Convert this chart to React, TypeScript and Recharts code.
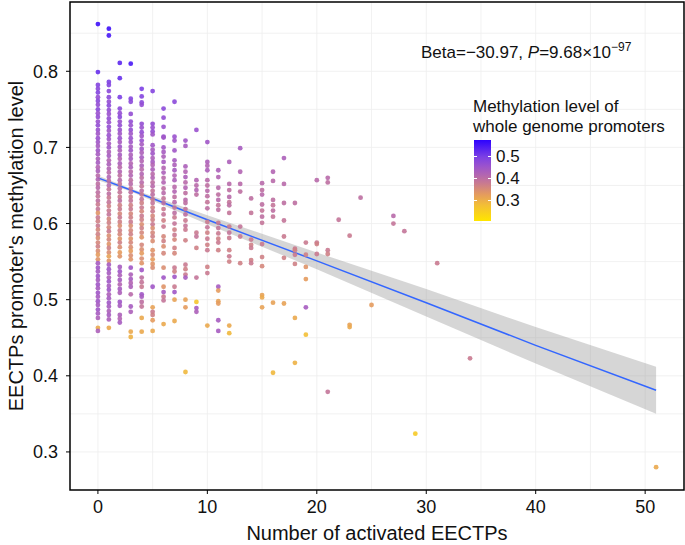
import React from 'react';
import { ComposedChart, Scatter, Line, Area, XAxis, YAxis, CartesianGrid, ReferenceArea } from 'recharts';

// each column: [y, methylation level of whole genome promoters]
const col0 = [[0.862,.56],[0.799,.52],[0.782,.49],[0.777,.48],[0.772,.49],[0.766,.47],[0.761,.48],[0.756,.47],[0.750,.48],[0.745,.46],[0.740,.47],[0.734,.46],[0.729,.47],[0.723,.46],[0.718,.45],[0.712,.46],[0.707,.45],[0.702,.44],[0.696,.45],[0.691,.44],[0.685,.43],[0.680,.44],[0.674,.42],[0.669,.43],[0.663,.41],[0.658,.42],[0.652,.40],[0.647,.41],[0.641,.40],[0.636,.39],[0.630,.40],[0.625,.38],[0.619,.39],[0.614,.34],[0.608,.38],[0.603,.37],[0.597,.38],[0.592,.36],[0.586,.37],[0.581,.35],[0.575,.36],[0.570,.37],[0.564,.35],[0.559,.33],[0.553,.34],[0.548,.44],[0.542,.45],[0.537,.44],[0.531,.45],[0.526,.44],[0.520,.45],[0.515,.44],[0.509,.45],[0.504,.44],[0.498,.45],[0.493,.44],[0.487,.45],[0.482,.44],[0.476,.43],[0.463,.31],[0.459,.43]];
const col1 = [[0.856,.56],[0.847,.55],[0.786,.50],[0.782,.49],[0.774,.48],[0.766,.48],[0.760,.47],[0.755,.48],[0.749,.47],[0.744,.46],[0.738,.47],[0.733,.46],[0.727,.47],[0.722,.45],[0.716,.46],[0.711,.45],[0.705,.44],[0.700,.45],[0.694,.43],[0.689,.44],[0.683,.42],[0.678,.43],[0.672,.42],[0.667,.41],[0.661,.42],[0.656,.40],[0.650,.41],[0.645,.39],[0.639,.40],[0.634,.38],[0.628,.39],[0.623,.37],[0.617,.38],[0.612,.39],[0.606,.36],[0.601,.37],[0.595,.36],[0.590,.38],[0.584,.35],[0.579,.36],[0.573,.34],[0.568,.37],[0.562,.35],[0.557,.32],[0.551,.34],[0.546,.44],[0.540,.45],[0.535,.44],[0.529,.43],[0.524,.45],[0.518,.44],[0.513,.45],[0.507,.43],[0.502,.44],[0.496,.45],[0.491,.44],[0.485,.43],[0.480,.44],[0.474,.43],[0.463,.31]];
const col2 = [[0.811,.53],[0.791,.52],[0.766,.50],[0.751,.48],[0.745,.47],[0.740,.48],[0.734,.46],[0.729,.47],[0.723,.46],[0.718,.45],[0.712,.46],[0.707,.44],[0.701,.45],[0.696,.43],[0.690,.44],[0.685,.42],[0.679,.43],[0.674,.41],[0.668,.42],[0.663,.40],[0.657,.41],[0.652,.39],[0.646,.40],[0.641,.39],[0.635,.38],[0.630,.40],[0.624,.37],[0.619,.38],[0.613,.36],[0.608,.38],[0.602,.37],[0.597,.35],[0.591,.37],[0.586,.36],[0.580,.34],[0.575,.37],[0.569,.35],[0.562,.33],[0.557,.34],[0.543,.44],[0.537,.45],[0.532,.43],[0.526,.44],[0.520,.42],[0.514,.44],[0.509,.43],[0.497,.45],[0.492,.44],[0.480,.43],[0.475,.42],[0.470,.44]];
const col3 = [[0.810,.55],[0.764,.49],[0.760,.48],[0.744,.47],[0.734,.47],[0.729,.46],[0.723,.47],[0.718,.45],[0.712,.46],[0.707,.45],[0.701,.44],[0.696,.45],[0.690,.43],[0.685,.44],[0.679,.42],[0.674,.43],[0.668,.41],[0.663,.42],[0.657,.40],[0.652,.41],[0.646,.39],[0.641,.40],[0.635,.38],[0.630,.39],[0.624,.37],[0.619,.38],[0.613,.36],[0.608,.37],[0.602,.38],[0.597,.35],[0.591,.36],[0.586,.37],[0.580,.34],[0.575,.36],[0.569,.35],[0.564,.33],[0.558,.35],[0.553,.34],[0.542,.45],[0.533,.43],[0.527,.44],[0.522,.42],[0.517,.43],[0.507,.41],[0.491,.44],[0.484,.43],[0.458,.31],[0.451,.30]];
const col4 = [[0.777,.50],[0.767,.49],[0.759,.48],[0.756,.47],[0.731,.47],[0.726,.46],[0.720,.47],[0.715,.45],[0.709,.46],[0.704,.44],[0.698,.45],[0.693,.43],[0.687,.44],[0.682,.42],[0.676,.43],[0.671,.41],[0.665,.42],[0.660,.40],[0.654,.41],[0.649,.39],[0.643,.40],[0.638,.38],[0.632,.39],[0.627,.37],[0.621,.38],[0.616,.36],[0.610,.38],[0.605,.37],[0.599,.35],[0.594,.37],[0.588,.36],[0.582,.34],[0.572,.36],[0.566,.35],[0.561,.33],[0.554,.35],[0.548,.34],[0.539,.45],[0.529,.40],[0.523,.39],[0.517,.38],[0.507,.45],[0.504,.44],[0.497,.40],[0.491,.39],[0.476,.31],[0.458,.31]];
const col5 = [[0.774,.49],[0.731,.47],[0.726,.46],[0.721,.47],[0.717,.45],[0.703,.45],[0.697,.44],[0.692,.45],[0.686,.43],[0.681,.44],[0.677,.42],[0.671,.43],[0.665,.41],[0.660,.42],[0.654,.40],[0.649,.41],[0.643,.39],[0.638,.40],[0.632,.38],[0.627,.39],[0.621,.37],[0.616,.38],[0.610,.36],[0.605,.37],[0.599,.38],[0.594,.35],[0.588,.36],[0.583,.37],[0.577,.35],[0.565,.34],[0.559,.35],[0.553,.33],[0.547,.34],[0.542,.35],[0.517,.45],[0.490,.32],[0.484,.38],[0.480,.37],[0.473,.33],[0.459,.31]];
const col6 = [[0.751,.48],[0.739,.47],[0.727,.46],[0.714,.46],[0.713,.45],[0.700,.45],[0.694,.44],[0.688,.43],[0.681,.44],[0.673,.42],[0.667,.43],[0.660,.41],[0.654,.42],[0.646,.40],[0.640,.41],[0.633,.39],[0.627,.40],[0.619,.38],[0.612,.39],[0.604,.37],[0.596,.38],[0.583,.36],[0.577,.37],[0.570,.35],[0.561,.36],[0.542,.35],[0.529,.45],[0.517,.34],[0.510,.44],[0.504,.38],[0.499,.39],[0.468,.31]];
const col7 = [[0.760,.48],[0.714,.46],[0.709,.45],[0.696,.45],[0.683,.44],[0.677,.43],[0.670,.44],[0.663,.42],[0.657,.43],[0.648,.41],[0.642,.42],[0.635,.40],[0.628,.41],[0.621,.39],[0.614,.40],[0.608,.38],[0.600,.39],[0.592,.37],[0.585,.38],[0.579,.36],[0.568,.37],[0.561,.36],[0.542,.38],[0.537,.37],[0.530,.45],[0.517,.38],[0.510,.45],[0.500,.32],[0.472,.31]];
const col8 = [[0.709,.45],[0.702,.44],[0.675,.43],[0.668,.42],[0.661,.43],[0.654,.41],[0.647,.42],[0.640,.40],[0.631,.41],[0.627,.40],[0.619,.39],[0.612,.40],[0.604,.38],[0.597,.39],[0.592,.38],[0.578,.37],[0.546,.38],[0.540,.37],[0.533,.38],[0.529,.44],[0.500,.32],[0.490,.33],[0.405,.29]];
const col9 = [[0.723,.46],[0.657,.42],[0.650,.41],[0.644,.42],[0.638,.40],[0.588,.38],[0.583,.39],[0.568,.37],[0.529,.39],[0.497,.27],[0.489,.44],[0.484,.43]];
const col10 = [[0.707,.45],[0.681,.43],[0.676,.42],[0.670,.43],[0.657,.41],[0.650,.40],[0.643,.41],[0.636,.40],[0.628,.39],[0.620,.40],[0.602,.38],[0.595,.39],[0.588,.37],[0.580,.38],[0.572,.37],[0.565,.38],[0.543,.37],[0.535,.38],[0.466,.31]];
const col11 = [[0.670,.43],[0.661,.42],[0.647,.41],[0.638,.40],[0.631,.41],[0.624,.39],[0.618,.40],[0.601,.38],[0.594,.39],[0.587,.38],[0.580,.37],[0.575,.38],[0.565,.37],[0.517,.44],[0.512,.33],[0.498,.32],[0.495,.33],[0.473,.44],[0.459,.44]];
const col12 = [[0.681,.43],[0.652,.41],[0.644,.40],[0.635,.41],[0.628,.39],[0.624,.40],[0.614,.39],[0.596,.38],[0.588,.39],[0.581,.38],[0.565,.37],[0.557,.38],[0.550,.37],[0.466,.31],[0.456,.29]];
const col13 = [[0.699,.44],[0.668,.42],[0.652,.41],[0.642,.40],[0.596,.39],[0.583,.38],[0.548,.37]];
const col14 = [[0.633,.40],[0.614,.39],[0.579,.38],[0.572,.37],[0.568,.38],[0.552,.37],[0.548,.38]];
const col15 = [[0.653,.41],[0.644,.40],[0.638,.41],[0.625,.40],[0.617,.39],[0.609,.40],[0.601,.39],[0.573,.38],[0.556,.37],[0.544,.36],[0.506,.32],[0.503,.31],[0.490,.32]];
const col16 = [[0.668,.42],[0.656,.41],[0.631,.40],[0.624,.39],[0.617,.40],[0.609,.39],[0.496,.32],[0.404,.29]];
const col17 = [[0.686,.43],[0.652,.41],[0.627,.40],[0.604,.39],[0.583,.38],[0.555,.37],[0.495,.32]];
const col18 = [[0.627,.40],[0.567,.38],[0.565,.37],[0.559,.38],[0.547,.37],[0.476,.31],[0.417,.30]];
const col19 = [[0.575,.38],[0.559,.37],[0.543,.34],[0.527,.33],[0.490,.44],[0.454,.28]];
const col20 = [[0.657,.41],[0.575,.38],[0.573,.37],[0.560,.38]];
const col21 = [[0.660,.41],[0.654,.40],[0.565,.38],[0.560,.37],[0.379,.39]];
const col22 = [[0.605,.39]];
const col23 = [[0.584,.38],[0.467,.32],[0.464,.31]];
const col24 = [[0.634,.40]];
const col25 = [[0.493,.33]];
const col27 = [[0.610,.41],[0.600,.39]];
const col28 = [[0.590,.39]];
const col29 = [[0.324,.26]];
const col31 = [[0.548,.38]];
const col34 = [[0.423,.38]];
const col51 = [[0.280,.31]];

const columns: [number, number[][]][] = [
  [0, col0], [1, col1], [2, col2], [3, col3], [4, col4], [5, col5], [6, col6], [7, col7],
  [8, col8], [9, col9], [10, col10], [11, col11], [12, col12], [13, col13], [14, col14],
  [15, col15], [16, col16], [17, col17], [18, col18], [19, col19], [20, col20], [21, col21],
  [22, col22], [23, col23], [24, col24], [25, col25], [27, col27], [28, col28], [29, col29],
  [31, col31], [34, col34], [51, col51],
];

// linear fit and its confidence band
const fitX = [0, 3, 10, 20, 30, 40, 51];
const fitY = [0.660, 0.644, 0.605, 0.551, 0.496, 0.440, 0.381];
const bandLo = [0.657, 0.642, 0.599, 0.540, 0.478, 0.416, 0.350];
const bandHi = [0.663, 0.646, 0.611, 0.562, 0.514, 0.464, 0.412];

const xTicks = [0, 10, 20, 30, 40, 50];
const yTicks = [0.3, 0.4, 0.5, 0.6, 0.7, 0.8];
const xGrid = [0, 5, 10, 15, 20, 25, 30, 35, 40, 45, 50];
const yGrid = [0.3, 0.35, 0.4, 0.45, 0.5, 0.55, 0.6, 0.65, 0.7, 0.75, 0.8, 0.85];
const legendTicks = [0.5, 0.4, 0.3];

const colorStops: [number, string][] = [
  [0.21, '#FFE500'], [0.28, '#F3BF35'], [0.33, '#E49B5E'], [0.38, '#C97A90'],
  [0.42, '#B265B2'], [0.46, '#9A52CE'], [0.50, '#7C40E4'], [0.58, '#2A00FF'],
];

const hex = (c: string) => [1, 3, 5].map((i) => parseInt(c.slice(i, i + 2), 16));

const levelColor = (v: number) => {
  if (v <= colorStops[0][0]) return colorStops[0][1];
  for (let i = 1; i < colorStops.length; i++) {
    const [v1, c1] = colorStops[i];
    if (v <= v1) {
      const [v0, c0] = colorStops[i - 1];
      const t = (v - v0) / (v1 - v0);
      const a = hex(c0), b = hex(c1);
      return `rgb(${a.map((n, k) => Math.round(n + (b[k] - n) * t)).join(',')})`;
    }
  }
  return colorStops[colorStops.length - 1][1];
};

const points = columns.flatMap(([x, pts]) => pts.map(([y, lvl]) => ({ x, y, lvl })));
const fitData = fitX.map((x, i) => ({ x, fit: fitY[i], band: [bandLo[i], bandHi[i]] }));

// colour bar spans these levels top to bottom
const barTop = 0.577, barBottom = 0.209;
const gradient = `linear-gradient(to bottom, ${[...colorStops].reverse()
  .map(([v, c]) => `${c} ${(((barTop - v) / (barTop - barBottom)) * 100).toFixed(1)}%`).join(', ')})`;

const font = '"Liberation Sans", Arial, sans-serif';

export default function App() {
  return (
    <div style={{ position: 'absolute', left: 0, top: 0, width: 685, height: 545, background: '#fff', fontFamily: font }}>
      <ComposedChart width={685} height={545} data={fitData} margin={{ top: 2, right: 1, bottom: 0, left: 0 }}>
        <CartesianGrid stroke="#EDEDED" strokeWidth={0.8} verticalValues={xGrid} horizontalValues={yGrid} />
        <XAxis
          type="number" dataKey="x" domain={[-2.55, 53.55]} ticks={xTicks} allowDataOverflow
          height={55} axisLine={false} tickSize={4} tickMargin={6}
          tickLine={{ stroke: '#000' }} tick={{ fontSize: 18, fill: '#111', fontFamily: font }}
          label={{ value: 'Number of activated EECTPs', position: 'center', dy: 15, fontSize: 20, fill: '#111', fontFamily: font }}
        />
        <YAxis
          type="number" domain={[0.25, 0.891]} ticks={yTicks} allowDataOverflow
          width={70} axisLine={false} tickSize={4} tickMargin={8}
          tickFormatter={(v: number) => v.toFixed(1)}
          tickLine={{ stroke: '#000' }} tick={{ fontSize: 18, fill: '#111', fontFamily: font }}
          label={{ value: "EECTPs promoter's methylation level", angle: -90, position: 'center', dx: -19, fontSize: 20, fill: '#111', fontFamily: font }}
        />
        <Scatter
          data={points} dataKey="y" isAnimationActive={false}
          shape={(p: any) => <circle cx={p.cx} cy={p.cy} r={2.4} fill={levelColor(p.payload.lvl)} fillOpacity={0.9} />}
        />
        <Area type="linear" dataKey="band" stroke="none" fill="#999999" fillOpacity={0.4} isAnimationActive={false} />
        <Line type="linear" dataKey="fit" stroke="#3366FF" strokeWidth={1.5} dot={false} isAnimationActive={false} />
        <ReferenceArea x1={-2.55} x2={53.55} y1={0.25} y2={0.891} fill="none" stroke="#000" strokeWidth={1.5} />
      </ComposedChart>

      <div style={{ position: 'absolute', left: 421, top: 43, fontSize: 17, lineHeight: '20px', color: '#111', whiteSpace: 'nowrap' }}>
        Beta=−30.97, <i>P</i>=9.68×10<sup style={{ fontSize: 12, verticalAlign: 7, lineHeight: 0 }}>−97</sup>
      </div>

      <div style={{ position: 'absolute', left: 473, top: 97, fontSize: 17, lineHeight: '20px', color: '#111', whiteSpace: 'nowrap' }}>
        Methylation level of<br />whole genome promoters
      </div>
      <div style={{ position: 'absolute', left: 474, top: 140, width: 17, height: 81, background: gradient }}>
        {legendTicks.map((v) => {
          const t = ((barTop - v) / (barTop - barBottom)) * 81;
          return (
            <React.Fragment key={v}>
              <div style={{ position: 'absolute', left: 0, top: t - 0.5, width: 3, height: 1, background: '#fff' }} />
              <div style={{ position: 'absolute', right: 0, top: t - 0.5, width: 3, height: 1, background: '#fff' }} />
              <div style={{ position: 'absolute', left: 22, top: t - 10, fontSize: 17, lineHeight: '20px', color: '#111' }}>
                {v.toFixed(1)}
              </div>
            </React.Fragment>
          );
        })}
      </div>
    </div>
  );
}
